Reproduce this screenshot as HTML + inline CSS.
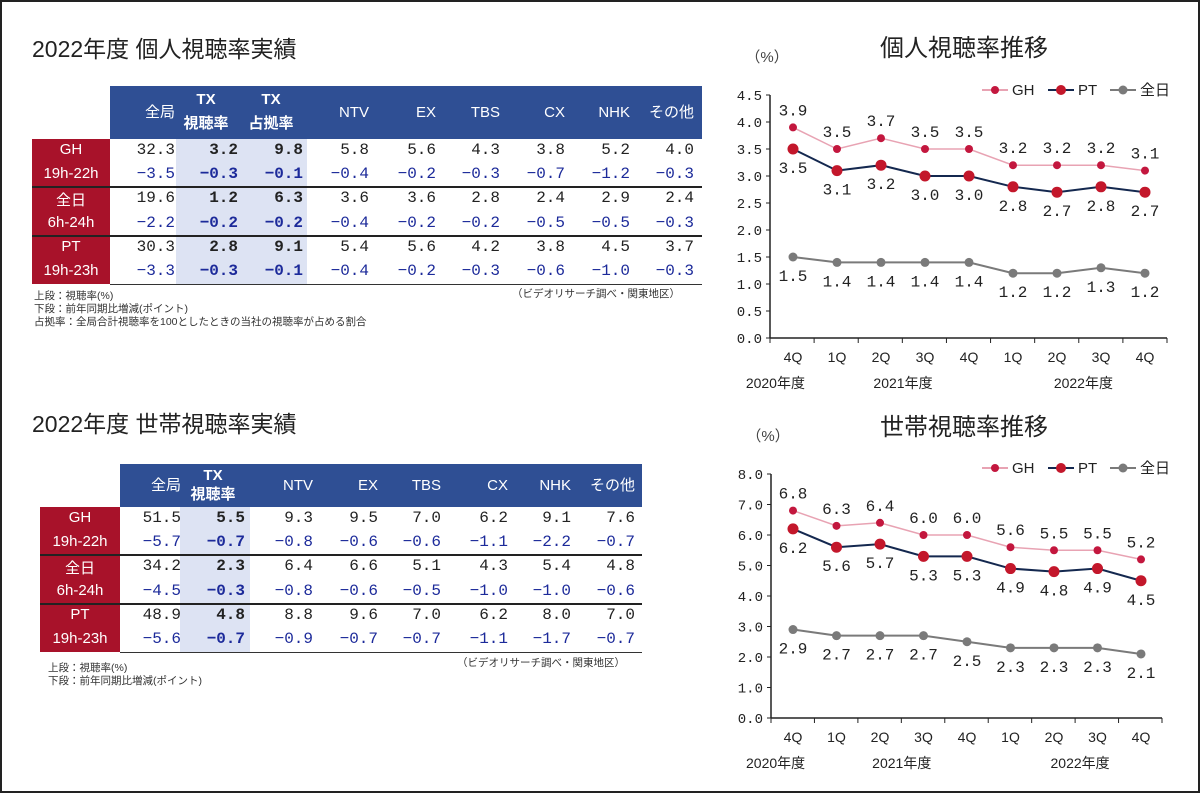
<!DOCTYPE html>
<html><head><meta charset="utf-8">
<style>
body{margin:0;background:#fff;}
#root{position:relative;width:1200px;height:793px;overflow:hidden;font-family:"Liberation Sans","Noto Sans CJK JP",sans-serif;box-sizing:border-box;border:2px solid #222;}
.a{position:absolute;white-space:nowrap;}
.title{font-size:23px;color:#222;}
.mono{font-family:"Liberation Mono","Noto Sans CJK JP",monospace;}
</style></head>
<body>
<div id="root">
<div class="a title" style="left:30px;top:28px">2022年度 個人視聴率実績</div>
<div class="a title" style="left:30px;top:403px">2022年度 世帯視聴率実績</div>
<div class="a title" style="left:878px;top:26px;font-size:24px">個人視聴率推移</div>
<div class="a title" style="left:878px;top:405px;font-size:24px">世帯視聴率推移</div>
<div id="t1"></div>
<div id="t2"></div>
<svg id="c1" class="a" style="left:0;top:0" width="1200" height="793"></svg>
</div>
<script>
// ---- table data ----
const rowLabels=[["GH","19h-22h"],["全日","6h-24h"],["PT","19h-23h"]];
const t1Cols=["全局","TX<br>視聴率","TX<br>占拠率","NTV","EX","TBS","CX","NHK","その他"];
const t1Vals=[["32.3","3.2","9.8","5.8","5.6","4.3","3.8","5.2","4.0"],["-3.5","-0.3","-0.1","-0.4","-0.2","-0.3","-0.7","-1.2","-0.3"],
["19.6","1.2","6.3","3.6","3.6","2.8","2.4","2.9","2.4"],["-2.2","-0.2","-0.2","-0.4","-0.2","-0.2","-0.5","-0.5","-0.3"],
["30.3","2.8","9.1","5.4","5.6","4.2","3.8","4.5","3.7"],["-3.3","-0.3","-0.1","-0.4","-0.2","-0.3","-0.6","-1.0","-0.3"]];
const t2Cols=["全局","TX<br>視聴率","NTV","EX","TBS","CX","NHK","その他"];
const t2Vals=[["51.5","5.5","9.3","9.5","7.0","6.2","9.1","7.6"],["-5.7","-0.7","-0.8","-0.6","-0.6","-1.1","-2.2","-0.7"],
["34.2","2.3","6.4","6.6","5.1","4.3","5.4","4.8"],["-4.5","-0.3","-0.8","-0.6","-0.5","-1.0","-1.0","-0.6"],
["48.9","4.8","8.8","9.6","7.0","6.2","8.0","7.0"],["-5.6","-0.7","-0.9","-0.7","-0.7","-1.1","-1.7","-0.7"]];

function mk(parent,html,style,name){const d=document.createElement('div');d.className='a';d.innerHTML=html;d.style.cssText=style;


parent.appendChild(d);return d;}
const root=document.getElementById('root');
function table(host,cols,vals,o){
  const H=o.hy1-o.hy0;
  mk(host,'',`left:${o.hx0}px;top:${o.hy0}px;width:${o.hx1-o.hx0}px;height:${H}px;background:#2f4f94;`,'header-band');
  mk(host,'',`left:${o.hl0}px;top:${o.hy1}px;width:${o.hl1-o.hl0}px;height:${o.ry1-o.hy1}px;background:#dde3f3;`,'tx-highlight');
  mk(host,'',`left:${o.lx0}px;top:${o.hy1}px;width:${o.hx0-o.lx0}px;height:${o.ry1-o.hy1}px;background:#a8122a;`,'row-label-band');
  const rh=(o.ry1-o.hy1)/6;
  const lh=Math.floor((H-4)/2);
  cols.forEach((c,i)=>{const tx=c.indexOf('TX')==0;
    if(tx) mk(host,c,`left:${o.ce[i]-62}px;width:60px;text-align:center;top:${o.hy0+2}px;color:#fff;font-size:15px;line-height:${lh}px;font-weight:bold;`,'column-header');
    else mk(host,c,`left:${o.ce[i]-70}px;width:70px;text-align:right;top:${o.hy0+(H-20)/2}px;color:#fff;font-size:15px;line-height:20px;`,'column-header');});
  rowLabels.forEach((r,k)=>{
    mk(host,r[0],`left:${o.lx0}px;width:${o.hx0-o.lx0}px;text-align:center;top:${o.hy1+rh*2*k+2}px;color:#fff;font-size:15px;`,'row-label');
    mk(host,r[1],`left:${o.lx0}px;width:${o.hx0-o.lx0}px;text-align:center;top:${o.hy1+rh*(2*k+1)+2}px;color:#fff;font-size:15px;`,'row-sublabel');
    if(k>0){mk(host,'',`left:${o.lx0}px;top:${o.hy1+rh*2*k-1}px;width:${o.hx1-o.lx0}px;height:2px;background:#222;`,'row-divider');}
  });
  mk(host,'',`left:${o.hx0}px;top:${o.ry1}px;width:${o.hx1-o.hx0}px;height:1px;background:#333;`,'table-bottom-line');
  vals.forEach((row,r)=>row.forEach((v,i)=>{const bold=i>=1&&i<=o.nb;
    mk(host,v.replace('-','−'),`left:${o.ce[i]-60}px;width:60px;text-align:right;top:${o.hy1+rh*r+2}px;font-size:16px;color:${r%2?'#1c2a9a':'#222'};font-weight:${bold?'bold':'normal'};`,'cell-value').classList.add('mono');}));
}
table(document.getElementById('t1'),t1Cols,t1Vals,{hx0:108,hx1:700,hy0:84,hy1:137,ry1:282,lx0:30,hl0:174,hl1:305,nb:2,ce:[173,236,301,367,434,498,563,628,692]});
table(document.getElementById('t2'),t2Cols,t2Vals,{hx0:118,hx1:640,hy0:462,hy1:505,ry1:650,lx0:38,hl0:178,hl1:248,nb:1,ce:[179,243,311,376,439,506,569,633]});
mk(root,'上段：視聴率(%)<br>下段：前年同期比増減(ポイント)<br>占拠率：全局合計視聴率を100としたときの当社の視聴率が占める割合','left:32px;top:288px;font-size:10.5px;line-height:13px;color:#333;','table1-notes');
mk(root,'（ビデオリサーチ調べ・関東地区）','left:510px;top:284px;font-size:10.5px;color:#333;','table1-source');
mk(root,'上段：視聴率(%)<br>下段：前年同期比増減(ポイント)','left:46px;top:660px;font-size:10.5px;line-height:13px;color:#333;','table2-notes');
mk(root,'（ビデオリサーチ調べ・関東地区）','left:455px;top:653px;font-size:10.5px;color:#333;','table2-source');
</script>
<script>
// ---- chart data ----
const quarters=["4Q","1Q","2Q","3Q","4Q","1Q","2Q","3Q","4Q"];
const years=["2020年度","2021年度","2022年度"];
const p_GH=[3.9,3.5,3.7,3.5,3.5,3.2,3.2,3.2,3.1];
const p_PT=[3.5,3.1,3.2,3.0,3.0,2.8,2.7,2.8,2.7];
const p_ALL=[1.5,1.4,1.4,1.4,1.4,1.2,1.2,1.3,1.2];
const p_ticks=[0,0.5,1,1.5,2,2.5,3,3.5,4,4.5];
const h_GH=[6.8,6.3,6.4,6.0,6.0,5.6,5.5,5.5,5.2];
const h_PT=[6.2,5.6,5.7,5.3,5.3,4.9,4.8,4.9,4.5];
const h_ALL=[2.9,2.7,2.7,2.7,2.5,2.3,2.3,2.3,2.1];
const h_ticks=[0,1,2,3,4,5,6,7,8];

const svg=document.getElementById('c1');const NS='http://www.w3.org/2000/svg';
function el(t,a,name){const e=document.createElementNS(NS,t);for(const k in a)e.setAttribute(k,a[k]);


svg.appendChild(e);return e;}
function txt(x,y,s,a,name,size){const e=el('text',{x:x,y:y,'text-anchor':a||'middle','font-size':size||15,fill:'#222','font-family':'"Liberation Mono","Noto Sans CJK JP",monospace'},name);e.textContent=s;return e;}
function chart(o,GH,PT,ALL,ticks){
  const x=i=>o.x0+i*o.dx, y=v=>o.y0-(v-ticks[0])/(ticks[ticks.length-1]-ticks[0])*(o.y0-o.y1);
  el('line',{x1:o.ax,y1:y(ticks[ticks.length-1]),x2:o.ax,y2:o.y0,stroke:'#222','stroke-width':1.5},'y-axis');
  el('line',{x1:o.ax,y1:o.y0,x2:o.ax2,y2:o.y0,stroke:'#222','stroke-width':1.5},'x-axis');
  ticks.forEach(t=>{el('line',{x1:o.ax-4,y1:y(t),x2:o.ax,y2:y(t),stroke:'#222'},'y-tick');
    txt(o.ax-8,y(t)+5,t.toFixed(1),'end','y-tick-label',14);});
  for(let i=0;i<=quarters.length;i++){const xx=o.ax+i*(o.ax2-o.ax)/quarters.length;el('line',{x1:xx,y1:o.y0,x2:xx,y2:o.y0+5,stroke:'#222'},'x-tick');}
  quarters.forEach((q,i)=>{const t=txt(x(i),o.y0+24,q,'middle','x-tick-label',14);t.setAttribute('font-family','"Liberation Sans",sans-serif');});
  [[0,-0.4],[1,2.5],[2,6.6]].forEach(([k,c])=>{const t=txt(x(c),o.y0+50,years[k],'middle','x-group-label',14);t.setAttribute('font-family','"Liberation Sans","Noto Sans CJK JP",sans-serif');});
  const u=txt(o.ax-3,o.y1-33,'（%）','middle','y-axis-unit',15);u.setAttribute('font-family','"Liberation Sans","Noto Sans CJK JP",sans-serif');u.setAttribute('fill','#444');
  const ser=[[GH,'#e8a3b3','#c3173e',4,-12,'series-gh',1.5],[PT,'#14284f','#c3172b',5.5,22,'series-pt',2],[ALL,'#7a7a7a','#7a7a7a',4.5,22,'series-all',2]];
  ser.forEach(([d,lc,mc,r,off,nm,w])=>{
    el('polyline',{points:d.map((v,i)=>x(i)+','+y(v)).join(' '),fill:'none',stroke:lc,'stroke-width':w},nm+'-line');
    d.forEach((v,i)=>{el('circle',{cx:x(i),cy:y(v),r:r,fill:mc},nm+'-point');txt(x(i),y(v)+off+(off>0?2:0),v.toFixed(1),'middle',nm+'-value-label',16);});
  });
  const lg=[[980,'#e8a3b3','#c3173e','GH',4,'legend-gh'],[1046,'#14284f','#c3172b','PT',5,'legend-pt'],[1108,'#7a7a7a','#7a7a7a','全日',4.5,'legend-all']];
  lg.forEach(([lx,lc,mc,s,r,nm])=>{el('line',{x1:lx,y1:o.ly,x2:lx+26,y2:o.ly,stroke:lc,'stroke-width':2},nm+'-line');
    el('circle',{cx:lx+13,cy:o.ly,r:r,fill:mc},nm+'-marker');
    const t=txt(lx+30,o.ly+5,s,'start',nm+'-text',15);t.setAttribute('font-family','"Liberation Sans","Noto Sans CJK JP",sans-serif');});
}
chart({x0:791,dx:44,ax:768,ax2:1165,y0:336,y1:93,ly:88},p_GH,p_PT,p_ALL,p_ticks);
chart({x0:791,dx:43.5,ax:769,ax2:1160,y0:716,y1:472,ly:466},h_GH,h_PT,h_ALL,h_ticks);
</script>
</body></html>
